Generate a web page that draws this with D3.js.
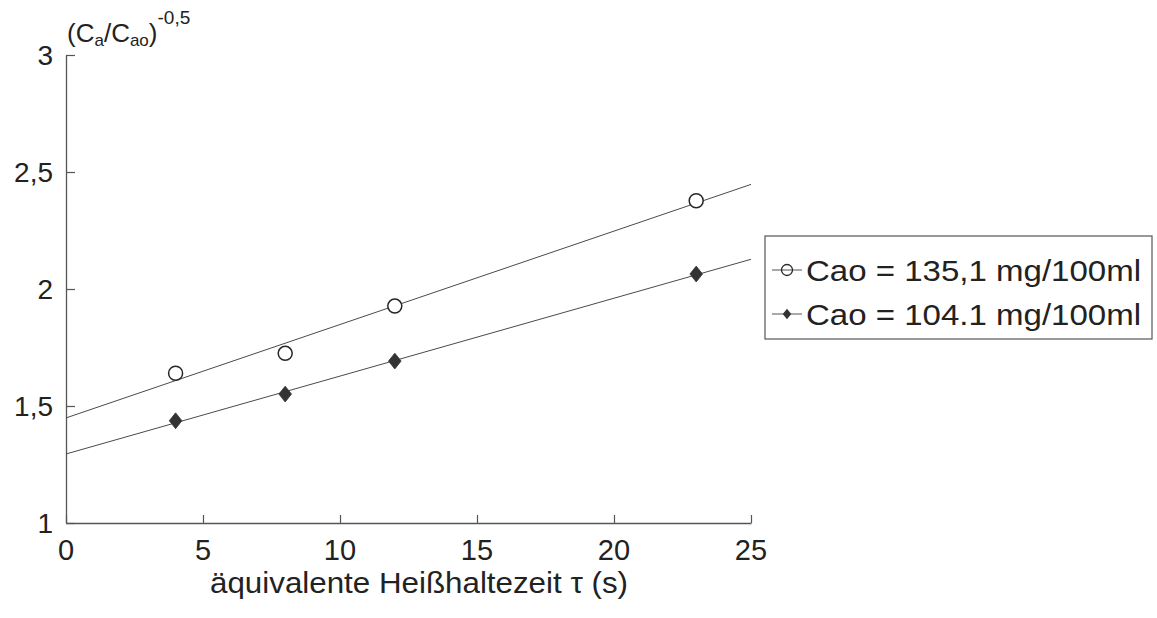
<!DOCTYPE html>
<html>
<head>
<meta charset="utf-8">
<script src="https://cdn.jsdelivr.net/npm/d3@7/dist/d3.min.js"></script>
<style>
  html, body { margin: 0; padding: 0; background: #fff; }
  svg { display: block; }
  text { font-family: "Liberation Sans", Arial, Helvetica, sans-serif; fill: #222; }
</style>
</head>
<body>
<svg id="chart" width="1157" height="618"></svg>
<script>
// Hold time (s) of the measurements
const times = [4, 8, 12, 23];
// (Ca/Cao)^-0.5 for the two starting concentrations
const seriesHigh = [1.640, 1.725, 1.927, 2.377];   // Cao = 135,1 mg/100ml
const seriesLow  = [1.437, 1.551, 1.692, 2.064];   // Cao = 104.1 mg/100ml
// Straight-line fits, evaluated at the ends of the time axis
const fitTimes = [0, 25];
const fitHigh = [1.449, 2.447];
const fitLow  = [1.295, 2.127];
// Axis ticks and labels
const xTicks = [0, 5, 10, 15, 20, 25];
const yTicks = [1, 1.5, 2, 2.5, 3];
const legendLabels = ["Cao = 135,1 mg/100ml", "Cao = 104.1 mg/100ml"];
const xTitle = "äquivalente Heißhaltezeit τ (s)";

const svg = d3.select("#chart");
const ink = "#262626";

const x = d3.scaleLinear().domain([0, 25]).range([66, 751]);
const y = d3.scaleLinear().domain([1, 3]).range([523, 55]);

const de = d3.formatLocale({ decimal: ",", thousands: ".", grouping: [3], currency: ["", " €"] });
const fmt = v => Number.isInteger(v) ? String(v) : de.format(".1f")(v);

// A squat rhombus marker (wider than d3's built-in diamond)
const rhomb = {
  draw(ctx, size) {
    const h = Math.sqrt(size / 1.6);   // half height
    const w = h * 0.8;                 // half width
    ctx.moveTo(0, -h); ctx.lineTo(w, 0); ctx.lineTo(0, h); ctx.lineTo(-w, 0); ctx.closePath();
  }
};

// Axes: ticks point into the plot, labels are placed separately
const xAxis = d3.axisBottom(x).tickValues(xTicks).tickSizeInner(-8).tickSizeOuter(0).tickFormat("");
const yAxis = d3.axisLeft(y).tickValues(yTicks).tickSizeInner(-9).tickSizeOuter(0).tickFormat("");

const gx = svg.append("g").attr("transform", `translate(0,${y(1)})`).call(xAxis);
const gy = svg.append("g").attr("transform", `translate(${x(0)},0)`).call(yAxis);
[gx, gy].forEach(g => {
  g.selectAll("path.domain").attr("stroke", "#555").attr("stroke-width", 1.3);
  g.selectAll(".tick line").attr("stroke", "#555").attr("stroke-width", 1.2);
});

// Tick labels
svg.append("g").selectAll("text").data(xTicks).join("text")
  .attr("x", d => x(d)).attr("y", 560)
  .attr("text-anchor", "middle").attr("font-size", 29)
  .text(d => fmt(d));

svg.append("g").selectAll("text").data(yTicks).join("text")
  .attr("x", 53).attr("y", d => y(d) + 10)
  .attr("text-anchor", "end").attr("font-size", 28)
  .text(d => fmt(d));

// Axis titles
svg.append("text")
  .attr("x", 210).attr("y", 593).attr("font-size", 29)
  .attr("textLength", 418).attr("lengthAdjust", "spacingAndGlyphs")
  .text(xTitle);

const yt = svg.append("text").attr("x", 67).attr("y", 42).attr("font-size", 26);
yt.append("tspan").text("(C");
yt.append("tspan").attr("font-size", 17).attr("dy", 4).text("a");
yt.append("tspan").attr("dy", -4).text("/C");
yt.append("tspan").attr("font-size", 17).attr("dy", 4).text("ao");
yt.append("tspan").attr("dy", -4).text(")");
yt.append("tspan").attr("font-size", 19).attr("dy", -18).text("-0,5");

// Fit lines
const line = d3.line().x(d => x(d[0])).y(d => y(d[1]));
[fitHigh, fitLow].forEach(fit => {
  svg.append("path")
    .datum(fitTimes.map((t, i) => [t, fit[i]]))
    .attr("d", line)
    .attr("fill", "none").attr("stroke", "#4a4a4a").attr("stroke-width", 1);
});

// Markers
svg.append("g").selectAll("circle").data(times.map((t, i) => [t, seriesHigh[i]])).join("circle")
  .attr("cx", d => x(d[0])).attr("cy", d => y(d[1])).attr("r", 7)
  .attr("fill", "#fff").attr("stroke", ink).attr("stroke-width", 1.5);

svg.append("g").selectAll("path").data(times.map((t, i) => [t, seriesLow[i]])).join("path")
  .attr("d", d3.symbol().type(rhomb).size(100))
  .attr("transform", d => `translate(${x(d[0])},${y(d[1])})`)
  .attr("fill", "#333").attr("stroke", "#333").attr("stroke-width", 0.8);

// Legend
const lg = svg.append("g");
lg.append("rect").attr("x", 765).attr("y", 236).attr("width", 387).attr("height", 103)
  .attr("fill", "#fff").attr("stroke", "#555").attr("stroke-width", 1.2);

const rows = lg.selectAll("g.row").data(legendLabels).join("g")
  .attr("class", "row")
  .attr("transform", (d, i) => `translate(0,${270 + i * 44})`);
rows.append("line").attr("x1", 772).attr("x2", 802).attr("y1", 0).attr("y2", 0)
  .attr("stroke", "#555").attr("stroke-width", 1);
rows.filter((d, i) => i === 0).append("circle")
  .attr("cx", 787).attr("cy", 0).attr("r", 5.5)
  .attr("fill", "none").attr("stroke", ink).attr("stroke-width", 1.3);
rows.filter((d, i) => i === 1).append("path")
  .attr("d", d3.symbol().type(rhomb).size(45))
  .attr("transform", "translate(787,0)")
  .attr("fill", "#333");
rows.append("text")
  .attr("x", 806).attr("y", 11).attr("font-size", 30)
  .attr("textLength", 335).attr("lengthAdjust", "spacingAndGlyphs")
  .text(d => d);
</script>
</body>
</html>
